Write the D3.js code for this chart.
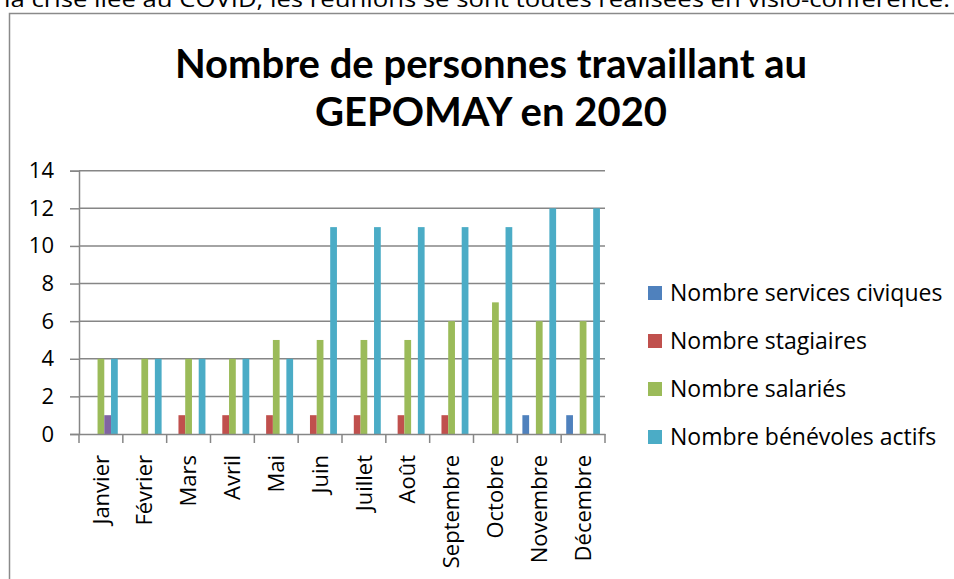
<!DOCTYPE html>
<html>
<head>
<meta charset="utf-8">
<script src="https://cdn.jsdelivr.net/npm/d3@7"></script>
<style>
  body { margin: 0; background: #fff; }
  text { font-family: "Open Sans", sans-serif; fill: #000; }
</style>
</head>
<body>
<svg id="chart" width="954" height="579"></svg>
<script>
var months = ["Janvier", "Février", "Mars", "Avril", "Mai", "Juin", "Juillet", "Août",
              "Septembre", "Octobre", "Novembre", "Décembre"];

var seriesNames = ["Nombre services civiques", "Nombre stagiaires", "Nombre salariés",
                   "(sans légende)", "Nombre bénévoles actifs"];

var servicesCiviques = [0, 0, 0, 0, 0, 0, 0, 0, 0, 0, 1, 1];
var stagiaires       = [0, 0, 1, 1, 1, 1, 1, 1, 1, 0, 0, 0];
var salaries         = [4, 4, 4, 4, 5, 5, 5, 5, 6, 7, 6, 6];
var autre            = [1, 0, 0, 0, 0, 0, 0, 0, 0, 0, 0, 0]; // purple series, legend entry removed
var benevoles        = [4, 4, 4, 4, 4, 11, 11, 11, 11, 11, 12, 12];

var yTicks = [0, 2, 4, 6, 8, 10, 12, 14];

var colors = ["#4F81BD", "#C0504D", "#9BBB59", "#8064A2", "#4BACC6"];
var legendShown = [0, 1, 2, 4];

var allSeries = [servicesCiviques, stagiaires, salaries, autre, benevoles];

var svg = d3.select("#chart");

// text above the chart (cut by the window, as in the document)
svg.append("text")
    .attr("x", 4)
    .attr("y", 7)
    .attr("textLength", 946)
    .attr("lengthAdjust", "spacingAndGlyphs")
    .style("font-size", "22px")
    .text("la crise liée au COVID, les réunions se sont toutes réalisées en visio-conférence.");

// chart frame
svg.append("rect")
    .attr("x", 9.5)
    .attr("y", 13.5)
    .attr("width", 1000)
    .attr("height", 1000)
    .attr("fill", "#fff")
    .attr("stroke", "#8a8a8a")
    .attr("stroke-width", 1.5);

// title
var title = svg.append("text")
    .attr("text-anchor", "middle")
    .style("font-family", "Lato, sans-serif")
    .style("font-size", "40px")
    .style("font-weight", "bold");
title.append("tspan").attr("x", 491).attr("y", 78).text("Nombre de personnes travaillant au");
title.append("tspan").attr("x", 491).attr("y", 126).text("GEPOMAY en 2020");

var x = d3.scaleBand()
    .domain(months)
    .range([79, 605]);

var y = d3.scaleLinear()
    .domain([0, 14])
    .range([434, 170.7]);

var bw = x.bandwidth();
var slot = bw / 6.5;          // gap width 150%
var offset = slot * 0.75;

// gridlines
svg.append("g")
  .selectAll("line")
    .data(yTicks.filter(function(d) { return d > 0; }))
  .enter().append("line")
    .attr("x1", 79)
    .attr("x2", 605)
    .attr("y1", function(d) { return y(d); })
    .attr("y2", function(d) { return y(d); })
    .attr("stroke", "#868686")
    .attr("stroke-width", 1.5);

// bars
var groups = svg.append("g")
  .selectAll("g")
    .data(allSeries)
  .enter().append("g")
    .attr("fill", function(d, i) { return colors[i]; });

groups.each(function(values, si) {
  d3.select(this).selectAll("rect")
      .data(values.map(function(v, i) { return {month: months[i], value: v}; })
                  .filter(function(d) { return d.value > 0; }))
    .enter().append("rect")
      .attr("x", function(d) { return x(d.month) + offset + si * slot; })
      .attr("width", slot)
      .attr("y", function(d) { return y(d.value); })
      .attr("height", function(d) { return y(0) - y(d.value); });
});

// y axis
var yAxis = svg.append("g")
    .attr("transform", "translate(79,0)")
    .call(d3.axisLeft(y).tickValues(yTicks).tickSize(9).tickPadding(16).tickFormat(d3.format("d")));
yAxis.select(".domain").attr("stroke", "#868686").attr("stroke-width", 1.5);
yAxis.selectAll(".tick line").attr("stroke", "#868686").attr("stroke-width", 1.5);
yAxis.selectAll(".tick text").style("font-size", "22px").style("font-family", "'Open Sans', sans-serif").attr("fill", "#000");

// x axis
var xAxis = svg.append("g")
    .attr("transform", "translate(0,434)")
    .call(d3.axisBottom(x).tickSize(0).tickSizeOuter(0));
xAxis.select(".domain").attr("stroke", "#868686").attr("stroke-width", 1.5);
xAxis.selectAll(".tick line").remove();
xAxis.selectAll(".tick text")
    .style("font-size", "22px")
    .style("font-family", "'Open Sans', sans-serif")
    .attr("fill", "#000")
    .attr("text-anchor", "end")
    .attr("transform", "rotate(-90)")
    .attr("x", -21)
    .attr("y", 0)
    .attr("dy", "0.35em");

// category boundary ticks
xAxis.append("g")
  .selectAll("line")
    .data(d3.range(months.length + 1))
  .enter().append("line")
    .attr("x1", function(i) { return 79 + i * bw; })
    .attr("x2", function(i) { return 79 + i * bw; })
    .attr("y1", 0)
    .attr("y2", 9)
    .attr("stroke", "#868686")
    .attr("stroke-width", 1.5);

// legend
var legend = svg.append("g")
  .selectAll("g")
    .data(legendShown)
  .enter().append("g")
    .attr("transform", function(d, i) { return "translate(648," + (293 + i * 48) + ")"; });

legend.append("rect")
    .attr("x", 0)
    .attr("y", -7)
    .attr("width", 14)
    .attr("height", 14)
    .attr("fill", function(d) { return colors[d]; });

legend.append("text")
    .attr("x", 22)
    .attr("y", 0)
    .attr("dy", "0.35em")
    .style("font-size", "23px")
    .text(function(d) { return seriesNames[d]; });
</script>
</body>
</html>
